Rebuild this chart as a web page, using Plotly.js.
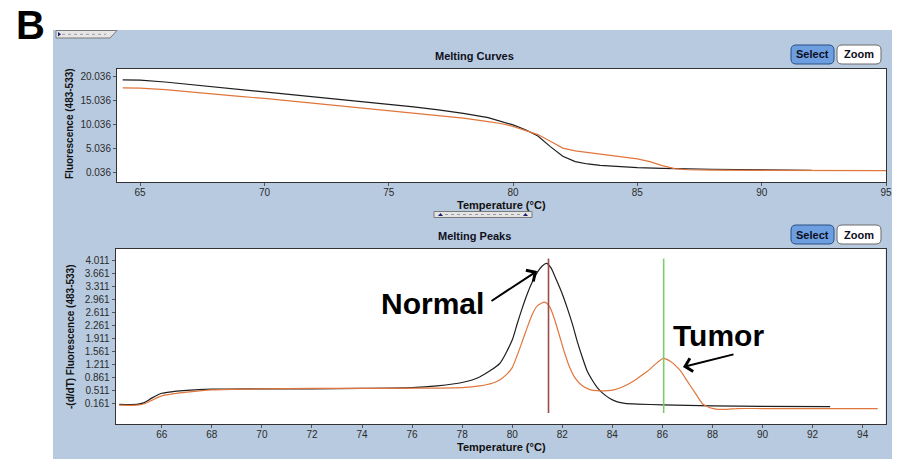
<!DOCTYPE html>
<html>
<head>
<meta charset="utf-8">
<script src="https://cdn.plot.ly/plotly-3.0.1.min.js"></script>
<style>html,body{margin:0;padding:0;background:#fff;}#chart{width:903px;height:465px;}</style>
</head>
<body>
<div id="chart"></div>
<script>
// ---------- DATA ----------
// Melting Curves (top panel)
const curveTempNormal = [64.3, 65, 66, 67, 68, 69, 70, 71, 72, 73, 74, 75, 76, 77, 78, 79, 79.5, 80, 80.5, 81, 81.5, 82, 82.5, 83, 83.5, 84, 85, 86, 86.5, 87, 88, 89, 90, 91, 92];
const curveFluorNormal = [19.35, 19.3, 18.9, 18.4, 17.9, 17.35, 16.85, 16.35, 15.85, 15.35, 14.85, 14.35, 13.75, 13.1, 12.4, 11.5, 10.8, 10.0, 9.0, 7.7, 5.5, 3.5, 2.4, 1.9, 1.6, 1.4, 1.15, 1.0, 0.92, 0.85, 0.8, 0.75, 0.7, 0.65, 0.6];
const curveTempTumor = [64.3, 65, 66, 67, 68, 69, 70, 71, 72, 73, 74, 75, 76, 77, 78, 79, 79.5, 80, 80.5, 81, 81.5, 82, 82.5, 83, 83.5, 84, 84.5, 85, 85.5, 86, 86.5, 87, 88, 90, 92, 95];
const curveFluorTumor = [17.7, 17.65, 17.3, 16.8, 16.4, 15.9, 15.5, 15.0, 14.5, 14.0, 13.5, 13.0, 12.5, 12.0, 11.4, 10.7, 10.3, 9.7, 8.9, 8.0, 6.6, 5.2, 4.6, 4.3, 3.95, 3.6, 3.3, 2.95, 2.4, 1.55, 0.93, 0.7, 0.62, 0.58, 0.55, 0.5];

// Melting Peaks (bottom panel)
const peakTempNormal = [64.3, 65, 65.3, 65.6, 66, 66.5, 67, 68, 70, 72, 74, 76, 77, 78, 78.7, 79.5, 80, 80.2, 80.4, 80.6, 80.8, 81.0, 81.2, 81.37, 81.55, 81.75, 82.0, 82.2, 82.4, 82.6, 82.8, 83.0, 83.2, 83.4, 83.6, 83.9, 84.2, 84.5, 85, 86, 88, 90, 92.7];
const peakValNormal = [0.13, 0.13, 0.18, 0.3, 0.43, 0.48, 0.51, 0.54, 0.55, 0.55, 0.56, 0.58, 0.63, 0.72, 0.87, 1.23, 1.86, 2.3, 2.72, 3.1, 3.42, 3.68, 3.85, 3.92, 3.8, 3.5, 3.1, 2.72, 2.3, 1.82, 1.4, 1.02, 0.78, 0.58, 0.44, 0.29, 0.2, 0.16, 0.14, 0.12, 0.09, 0.08, 0.07];
const peakTempTumor = [64.3, 65, 65.3, 65.6, 66, 66.5, 67, 68, 70, 72, 74, 76, 77, 78, 78.7, 79.2, 79.5, 79.8, 80.0, 80.2, 80.4, 80.6, 80.8, 81.0, 81.3, 81.5, 81.7, 81.9, 82.1, 82.3, 82.5, 82.8, 83.1, 83.4, 83.8, 84.1, 84.4, 84.7, 85.0, 85.4, 85.7, 86.03, 86.3, 86.7, 87.0, 87.3, 87.6, 87.9, 88.2, 88.6, 89, 90, 92, 94.6];
const peakValTumor = [0.11, 0.11, 0.15, 0.24, 0.36, 0.42, 0.46, 0.52, 0.55, 0.56, 0.56, 0.57, 0.57, 0.58, 0.63, 0.7, 0.79, 0.95, 1.12, 1.45, 1.82, 2.2, 2.55, 2.78, 2.88, 2.75, 2.4, 1.95, 1.5, 1.12, 0.85, 0.63, 0.53, 0.5, 0.5, 0.53, 0.6, 0.7, 0.83, 1.02, 1.2, 1.37, 1.3, 1.05, 0.75, 0.45, 0.15, 0.04, 0.0, 0.0, 0.02, 0.02, 0.02, 0.02];

// Peak marker positions (Tm cursors)
const markerTemps = [81.45, 86.05];
const markerColors = ['#9b4b49', '#7ccc6c'];

// Tick labels
const curveYTicks = [0.036, 5.036, 10.036, 15.036, 20.036];
const curveXTicks = [65, 70, 75, 80, 85, 90, 95];
const peakYTicks = [0.161, 0.511, 0.861, 1.211, 1.561, 1.911, 2.261, 2.611, 2.961, 3.311, 3.661, 4.011];
const peakXTicks = [66, 68, 70, 72, 74, 76, 78, 80, 82, 84, 86, 88, 90, 92, 94];

// Labels
const labels = {
  panel: 'B',
  top: 'Melting Curves',
  bottom: 'Melting Peaks',
  xTitle: 'Temperature (°C)',
  yTop: 'Fluorescence (483-533)',
  yBottom: '-(d/dT) Fluorescence (483-533)',
  normal: 'Normal',
  tumor: 'Tumor'
};

// ---------- LAYOUT HELPERS ----------
const W = 903, H = 465;
const px = x => x / W;
const py = y => 1 - y / H;
const BLUE = '#b8cadf';
const BLACK = '#1e1e1e';
const ORANGE = '#e0763c';
const tickFont = {family: 'Liberation Sans, Arial, sans-serif', size: 10, color: '#2b2b2b'};
const boldFont = (s, c) => ({family: 'Liberation Sans, Arial, sans-serif', size: s, color: c || '#111', weight: 'bold'});

function roundRect(x0, y0, x1, y1, r) {
  const X0 = px(x0), X1 = px(x1), Y0 = py(y0), Y1 = py(y1);
  const rx = r / W, ry = r / H;
  return `M ${X0 + rx},${Y0} L ${X1 - rx},${Y0} Q ${X1},${Y0} ${X1},${Y0 - ry} L ${X1},${Y1 + ry} Q ${X1},${Y1} ${X1 - rx},${Y1} L ${X0 + rx},${Y1} Q ${X0},${Y1} ${X0},${Y1 + ry} L ${X0},${Y0 - ry} Q ${X0},${Y0} ${X0 + rx},${Y0} Z`;
}
function rectP(x0, y0, x1, y1, fill, line) {
  return {type: 'rect', xref: 'paper', yref: 'paper', x0: px(x0), x1: px(x1), y0: py(y1), y1: py(y0),
          fillcolor: fill, line: {width: line ? 1 : 0, color: line || fill}, layer: 'below'};
}
function label(text, x, y, font, extra) {
  return Object.assign({text: text, xref: 'paper', yref: 'paper', x: px(x), y: py(y), showarrow: false,
                        xanchor: 'center', yanchor: 'middle', font: font}, extra || {});
}

const traces = [
  {x: curveTempNormal, y: curveFluorNormal, xaxis: 'x', yaxis: 'y', mode: 'lines', line: {color: BLACK, width: 1.2}, hoverinfo: 'skip'},
  {x: curveTempTumor, y: curveFluorTumor, xaxis: 'x', yaxis: 'y', mode: 'lines', line: {color: ORANGE, width: 1.2}, hoverinfo: 'skip'},
  {x: peakTempNormal, y: peakValNormal, xaxis: 'x2', yaxis: 'y2', mode: 'lines', line: {color: BLACK, width: 1.2, shape: 'spline', smoothing: 0.6}, hoverinfo: 'skip'},
  {x: peakTempTumor, y: peakValTumor, xaxis: 'x2', yaxis: 'y2', mode: 'lines', line: {color: ORANGE, width: 1.2, shape: 'spline', smoothing: 0.6}, hoverinfo: 'skip'}
];

const axisCommon = {
  showgrid: false, zeroline: false, showline: true, mirror: true, linecolor: '#333', linewidth: 1,
  ticks: 'outside', ticklen: 3, tickcolor: '#555', tickfont: tickFont, automargin: false, fixedrange: true
};

const shapes = [
  // white surroundings outside the blue panel
  rectP(0, 0, 903, 30, '#ffffff'),
  rectP(0, 0, 53, 465, '#ffffff'),
  rectP(892, 0, 903, 465, '#ffffff'),
  rectP(0, 459, 903, 465, '#ffffff'),
  // tab at top-left
  {type: 'path', xref: 'paper', yref: 'paper', layer: 'below',
   path: `M ${px(56)},${py(30.5)} L ${px(117)},${py(30.5)} L ${px(110)},${py(38)} L ${px(56)},${py(38)} Z`,
   fillcolor: '#e6e6e6', line: {color: '#7a7a7a', width: 1}},
  {type: 'line', xref: 'paper', yref: 'paper', layer: 'below', x0: px(62), x1: px(106), y0: py(34.3), y1: py(34.3),
   line: {color: '#9a9a9a', width: 1, dash: 'dot'}},
  {type: 'path', xref: 'paper', yref: 'paper', layer: 'below',
   path: `M ${px(58)},${py(32)} L ${px(61)},${py(34.3)} L ${px(58)},${py(36.5)} Z`, fillcolor: '#1a1a6a', line: {width: 0}},
  // splitter between panels
  {type: 'rect', xref: 'paper', yref: 'paper', layer: 'below', x0: px(434), x1: px(532), y0: py(217.5), y1: py(211.5),
   fillcolor: '#e4e4e4', line: {color: '#7a7a7a', width: 1}},
  {type: 'line', xref: 'paper', yref: 'paper', layer: 'below', x0: px(445), x1: px(520), y0: py(214.5), y1: py(214.5),
   line: {color: '#9a9a9a', width: 1, dash: 'dot'}},
  {type: 'path', xref: 'paper', yref: 'paper', layer: 'below',
   path: `M ${px(438)},${py(216)} L ${px(440.5)},${py(213)} L ${px(443)},${py(216)} Z`, fillcolor: '#1a1a6a', line: {width: 0}},
  {type: 'path', xref: 'paper', yref: 'paper', layer: 'below',
   path: `M ${px(523)},${py(216)} L ${px(525.5)},${py(213)} L ${px(528)},${py(216)} Z`, fillcolor: '#1a1a6a', line: {width: 0}},
  // buttons
  {type: 'path', xref: 'paper', yref: 'paper', layer: 'below', path: roundRect(791, 45, 834, 64, 5), fillcolor: '#6d9fe0', line: {color: '#2a4f86', width: 1}},
  {type: 'path', xref: 'paper', yref: 'paper', layer: 'below', path: roundRect(837, 45, 881, 64, 5), fillcolor: '#ffffff', line: {color: '#6a6a6a', width: 1}},
  {type: 'path', xref: 'paper', yref: 'paper', layer: 'below', path: roundRect(791, 225, 834, 244, 5), fillcolor: '#6d9fe0', line: {color: '#2a4f86', width: 1}},
  {type: 'path', xref: 'paper', yref: 'paper', layer: 'below', path: roundRect(837, 225, 881, 244, 5), fillcolor: '#ffffff', line: {color: '#6a6a6a', width: 1}}
];
markerTemps.forEach((t, i) => {
  shapes.push({type: 'line', xref: 'x2', yref: 'y2', x0: t, x1: t, y0: -0.1, y1: 4.05, layer: 'above',
               line: {color: markerColors[i], width: 1.6}});
});

const annotations = [
  label(labels.panel, 30, 25, boldFont(40, '#000')),
  label(labels.top, 475, 56, boldFont(11, '#101020')),
  label(labels.bottom, 475, 236, boldFont(11, '#101020')),
  label(labels.xTitle, 501, 205, boldFont(11)),
  label(labels.xTitle, 501, 446.5, boldFont(11)),
  label(labels.yTop, 70, 124, boldFont(10), {textangle: -90}),
  label(labels.yBottom, 70, 337, boldFont(10), {textangle: -90}),
  label('Select', 812.5, 54.5, boldFont(11, '#0d0d20')),
  label('Zoom', 859, 54.5, boldFont(11, '#0d0d20')),
  label('Select', 812.5, 234.5, boldFont(11, '#0d0d20')),
  label('Zoom', 859, 234.5, boldFont(11, '#0d0d20')),
  // Normal / Tumor callouts
  label(labels.normal, 432, 303, boldFont(30, '#000')),
  {text: '', xref: 'paper', yref: 'paper', x: px(537), y: py(271), ax: -47, ay: 31, axref: 'pixel', ayref: 'pixel',
   showarrow: true, arrowhead: 4, arrowsize: 1.3, arrowwidth: 2, arrowcolor: '#000', standoff: 0},
  label(labels.tumor, 718, 335, boldFont(30, '#000')),
  {text: '', xref: 'paper', yref: 'paper', x: px(683), y: py(367), ax: 52, ay: -13, axref: 'pixel', ayref: 'pixel',
   showarrow: true, arrowhead: 4, arrowsize: 1.3, arrowwidth: 2, arrowcolor: '#000', standoff: 0}
];

const xAxisExtra = {ticklabelstandoff: -2};

const layout = {
  width: W, height: H, autosize: false,
  margin: {l: 0, r: 0, t: 0, b: 0, pad: 0},
  paper_bgcolor: BLUE, plot_bgcolor: '#ffffff',
  showlegend: false,
  xaxis: Object.assign({}, axisCommon, xAxisExtra, {domain: [px(117), px(886)], range: [64.07, 95], tickvals: curveXTicks, anchor: 'y'}),
  yaxis: Object.assign({}, axisCommon, {domain: [py(182), py(68.5)], range: [-1.84, 21.7], tickvals: curveYTicks,
          ticktext: curveYTicks.map(v => v.toFixed(3)), anchor: 'x'}),
  xaxis2: Object.assign({}, axisCommon, xAxisExtra, {domain: [px(115.7), px(885.7)], range: [64.16, 94.92], tickvals: peakXTicks, anchor: 'y2'}),
  yaxis2: Object.assign({}, axisCommon, {domain: [py(424), py(249)], range: [-0.395, 4.307], tickvals: peakYTicks,
          ticktext: peakYTicks.map(v => v.toFixed(3)), anchor: 'x2'}),
  shapes: shapes,
  annotations: annotations
};

Plotly.newPlot('chart', traces, layout, {staticPlot: true, displayModeBar: false});
</script>
</body>
</html>
